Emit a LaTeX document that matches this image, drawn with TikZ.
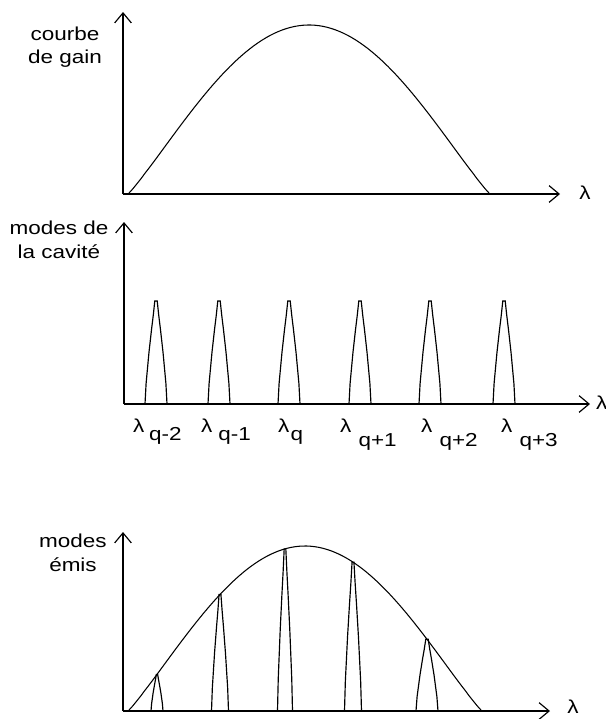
\documentclass[tikz,border=0pt]{standalone}
\usepackage{fontspec}
\setmainfont{Liberation Sans}[FakeStretch=1.2]
\usetikzlibrary{arrows.meta}

% one cavity mode: centre x, base y, height, half width
\newcommand{\modepeak}[4]{%
  \draw[mode] (#1-#4,#2) -- (#1-0.9*#4,#2-0.2*#3) -- (#1-0.64*#4,#2-0.5*#3)
    -- (#1-0.41*#4,#2-0.72*#3) -- (#1-0.25*#4,#2-0.86*#3) -- (#1-0.11*#4,#2-#3)
    -- (#1+0.11*#4,#2-#3) -- (#1+0.25*#4,#2-0.86*#3) -- (#1+0.41*#4,#2-0.72*#3)
    -- (#1+0.64*#4,#2-0.5*#3) -- (#1+0.9*#4,#2-0.2*#3) -- (#1+#4,#2);}

\begin{document}
\begin{tikzpicture}[x=0.3mm,y=-0.3mm,
    axis/.style={line width=1.5pt,-{Straight Barb[length=3mm,width=5mm,line width=1pt]}},
    curve/.style={line width=0.9pt},
    mode/.style={line width=1pt},
    lbl/.style={align=center,inner sep=0pt,font=\fontsize{16}{20}\selectfont},
    lam/.style={inner sep=0pt,font=\fontsize{16}{19}\selectfont}]
  \useasboundingbox (0,0) rectangle (606,719);

  % ---- top: gain curve ----
  \coordinate (o1) at (123,194);
  \coordinate (ytip1) at (123,12);
  \coordinate (xtip1) at (560,194);
  \draw[axis] (o1) -- (ytip1);
  \draw[axis] (o1) -- (xtip1);
  \node[lbl] (gain) at (65,47) {courbe\\de gain};
  \node[lam] (lam1) at (585,193) {λ};
  \draw[curve] (128,194) -- plot[domain=0.002:0.998,samples=90]
    ({128+362*\x},{194-169*pow(sin(180*\x),1.1)}) -- (490,194);

  % ---- middle: cavity modes ----
  \coordinate (o2) at (124,404);
  \coordinate (ytip2) at (124,222);
  \coordinate (xtip2) at (590,404);
  \draw[axis] (o2) -- (ytip2);
  \draw[axis] (o2) -- (xtip2);
  \node[lbl] (cavite) at (59,240) {modes de\\la cavité};
  \node[lam,anchor=west] (lam2) at (596,403) {λ};
  \foreach \mx in {156,219,289,360,430,504}
    \modepeak{\mx}{404}{103}{11};
  \foreach \lx/\ls/\lg/\ld [count=\i] in
      {133/q-2/4/7.5,201/q-1/5/7.5,278/q/1/7.5,340/q+1/6/12,421/q+2/6/12,501/q+3/6/12}
    \node[lam,anchor=base west] (lq\i) at (\lx,432)
      {λ\hspace{\lg pt}\raisebox{-\ld pt}{\ls}};

  % ---- bottom: emitted modes ----
  \coordinate (o3) at (123,711);
  \coordinate (ytip3) at (123,532);
  \coordinate (xtip3) at (550,711);
  \draw[axis] (o3) -- (ytip3);
  \draw[axis] (o3) -- (xtip3);
  \node[lbl] (emis) at (73,553) {modes\\émis};
  \node[lam] (lam3) at (573,707) {λ};
  \draw[curve] (128,711) -- plot[domain=0.002:0.998,samples=90]
    ({128+354*\x},{711-165*pow(sin(180*\x),1.1)}) -- (482,711);
  \foreach \mx/\mh/\mw in {157/36.6/6,220/116.5/8.5,285/162.1/7.5,353/148.9/8.5,427/71.8/11}
    \modepeak{\mx}{711}{\mh}{\mw};
\end{tikzpicture}
\end{document}
